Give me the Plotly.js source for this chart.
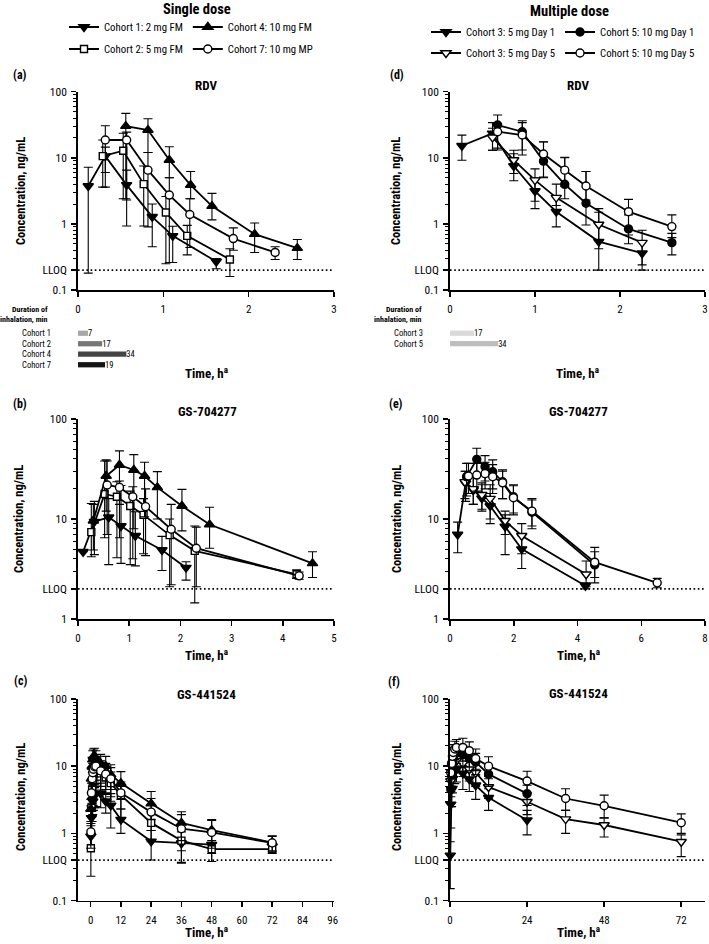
<!DOCTYPE html>
<html>
<head>
<meta charset="utf-8">
<script src="https://cdn.plot.ly/plotly-3.0.1.min.js"></script>
<style>
html, body { margin: 0; padding: 0; background: #fff; }
#chart { width: 709px; height: 944px; }
</style>
</head>
<body>
<div id="chart"></div>
<script>
// Plasma PK of RDV and metabolites, single vs multiple inhaled dose
// each row: [time h, mean ng/mL, lower bar end, upper bar end]

// (a) RDV, single dose
const a_c1 = [[0.12,3.74,0.18,7.2],[0.32,10.6,6.0,14.5],[0.57,3.9,0.93,6.5],[0.87,1.28,0.45,2.0],[1.11,0.66,0.26,0.92],[1.62,0.27,0.21,0.3]];
const a_c2 = [[0.29,10.6,3.6,18.6],[0.53,12.8,2.4,23.5],[0.77,4.0,0.93,7.5],[1.03,1.49,0.25,2.6],[1.28,0.66,0.34,0.95],[1.78,0.29,0.16,0.42]];
const a_c4 = [[0.56,30.2,2.4,47],[0.82,26.3,12,39],[1.07,9.25,5.0,14.7],[1.32,3.87,2.4,6.2],[1.57,1.86,1.15,2.9],[2.07,0.70,0.37,1.03],[2.57,0.43,0.29,0.58]];
const a_c7 = [[0.32,18.6,3.6,30.6],[0.57,18.6,2.3,24.5],[0.82,6.5,0.9,12],[1.07,2.73,0.26,5.0],[1.31,1.39,0.44,2.4],[1.82,0.60,0.40,0.87],[2.31,0.37,0.29,0.45]];

// (b) GS-704277, single dose
const b_c1 = [[0.10,4.7,4.7,4.7],[0.32,9.4,4.4,15],[0.60,10.4,3.5,16],[0.84,8.5,3.6,21.6],[1.12,6.8,3.4,11.8],[1.64,4.9,3.05,6.7],[2.11,3.26,2.45,3.74]];
const b_c2 = [[0.26,7.4,4.2,14.3],[0.52,17.8,6.5,38],[0.76,16.7,4.1,23.6],[1.02,13.5,3.5,19],[1.28,11.0,4.5,16],[1.79,6.9,2.1,10],[2.28,4.8,1.45,8.5],[4.27,2.8,2.55,3.1]];
const b_c4 = [[0.30,9.6,4.9,14],[0.55,26.9,12,39],[0.81,34.7,14,48],[1.09,30.9,8,44],[1.30,26.9,10.5,37],[1.55,20.7,10,29.8],[2.03,13.5,7.6,19.8],[2.57,8.8,5.1,13.1],[4.58,3.6,2.6,4.7]];
const b_c7 = [[0.57,21.9,7,38],[0.81,20.7,6.5,24],[1.07,16.7,4,21],[1.32,13.3,4.3,20],[1.82,7.9,2.2,14],[2.31,5.1,2.1,8.3],[4.32,2.7,2.5,2.95]];

// (c) GS-441524, single dose
const c_c1 = [[0.1,0.9,0.6,1.3],[0.33,1.7,1.0,2.4],[0.6,2.4,1.5,3.4],[0.85,3.0,1.9,4.2],[1.1,3.5,2.2,4.8],[1.6,3.8,2.4,5.3],[2.1,3.9,2.5,5.5],[4,3.9,2.4,5.6],[6,3.0,2.0,4.0],[8,2.6,1.2,3.9],[12,1.6,1.0,2.3],[24,0.76,0.4,1.1],[36,0.71,0.37,1.05],[48,0.68,0.38,0.98]];
const c_c2 = [[0.1,0.6,0.23,1.0],[0.33,2.4,1.5,3.3],[0.6,4.5,2.8,6.2],[0.85,6.0,3.6,8.3],[1.1,7.0,4.2,9.8],[1.6,7.8,4.8,10.8],[2.1,8.2,5.0,11.4],[4,7.8,4.4,11.0],[6,6.8,3.8,9.8],[8,5.6,3.0,8.2],[12,3.7,1.7,5.0],[24,1.43,0.75,2.1],[36,0.78,0.36,1.2],[48,0.58,0.38,0.78],[72,0.58,0.5,0.67]];
const c_c4 = [[0.1,2.3,1.4,3.2],[0.33,6.5,4,9],[0.6,10,6.5,13.5],[0.85,12.5,8,17],[1.1,13.8,9.5,18],[1.6,14.0,10,18.5],[2.1,13.2,9.5,17],[4,11.0,7.5,15],[6,10.0,6,14],[8,7.5,4.5,10.5],[12,5.6,3.2,8.3],[24,2.77,1.6,4.2],[36,1.43,0.78,2.1],[48,1.12,0.6,1.6],[72,0.73,0.55,0.92]];
const c_c7 = [[0.1,1.05,0.6,1.5],[0.33,4.0,2.4,5.6],[0.6,6.5,4,9],[0.85,8.0,5,11],[1.1,9.0,5.5,12.5],[1.6,9.8,6,13.5],[2.1,10.0,6.2,14],[4,8.5,5,12],[6,7.6,4.5,11],[8,6.5,3.5,9.5],[12,4.0,2.3,5.8],[24,2.07,1.1,3.3],[36,1.17,0.55,1.9],[48,1.03,0.5,1.55],[72,0.72,0.53,0.9]];

// (d) RDV, multiple dose
const d_c3d1 = [[0.14,15.2,9.2,22],[0.50,23.4,13,34],[0.75,7.5,4.5,11.5],[1.0,3.14,1.7,5.0],[1.25,1.53,0.9,2.6],[1.75,0.54,0.2,1.5],[2.26,0.36,0.2,0.55]];
const d_c3d5 = [[0.50,20.4,13,28],[0.75,9.25,5.8,13],[1.0,4.6,2.2,6.8],[1.25,2.5,1.9,4.0],[1.75,0.98,0.42,1.7],[2.26,0.52,0.24,0.8]];
const d_c5d1 = [[0.56,31.3,13.1,44.4],[0.85,24.8,13.1,36.4],[1.1,8.9,5.0,17.5],[1.35,3.97,2.4,10],[1.6,2.05,0.96,6.2],[2.1,0.84,0.5,1.37],[2.61,0.52,0.34,0.72]];
const d_c5d5 = [[0.56,24.8,14,33],[0.85,22.1,11,34],[1.1,11.4,5.1,17.3],[1.35,6.5,3.7,10.2],[1.6,3.74,2.3,6.2],[2.1,1.53,0.68,2.35],[2.61,0.91,0.62,1.37]];

// (e) GS-704277, multiple dose
const e_c3d1 = [[0.24,7.0,4.6,9.3],[0.49,22.8,15,30],[0.73,19.5,14,26],[1.0,16.1,12.5,22],[1.26,13.5,9,18],[1.73,8.4,4.4,11],[2.25,5.0,3.2,6.8],[4.25,2.15,2.0,2.3]];
const e_c3d5 = [[0.47,23.5,16,30],[0.73,20,14,27],[1.0,17.5,12,23],[1.26,16,10,22],[1.73,9.6,7,12],[2.25,6.8,4.5,9],[4.27,2.8,2.1,3.8]];
const e_c5d1 = [[0.52,26.5,17,36],[0.84,39.5,28,51],[1.1,33.4,24,43],[1.34,29.7,20,39],[1.65,23.6,16,31],[1.99,16.7,11.5,22],[2.57,11.7,8,15.5],[4.54,3.47,2.3,4.7]];
const e_c5d5 = [[0.58,26.9,18,36],[0.84,27.5,19,36],[1.1,28.4,20,37],[1.34,26.5,18,35],[1.65,23,16,30],[1.99,16.3,11,21.5],[2.57,12.0,8.5,16],[4.54,3.7,2.6,5.2],[6.5,2.3,2.05,2.55]];

// (f) GS-441524, multiple dose
const f_c3d1 = [[0.08,0.47,0.15,0.75],[0.25,2.7,1.2,4.2],[0.5,4.5,2.5,6.5],[0.75,6.5,4,9],[1,8,5,11],[1.5,8.8,5.5,12],[2,9,5.8,12.5],[4,7.8,4.5,11],[6,6.4,4.2,8.6],[8,5.2,3.2,7.2],[12,3.4,2.2,4.6],[24,1.57,0.95,2.2]];
const f_c3d5 = [[0.25,6,3.5,8.5],[0.5,8,5,11],[0.75,10,6.5,13.5],[1,11,7,15],[1.5,12,8,16],[2,12,8,16],[4,11,7,15],[6,9,6,12],[8,8,5,11],[12,4.9,3.3,6.5],[24,2.95,1.9,4.0],[36,1.63,1.0,2.2],[48,1.33,0.88,1.7],[72,0.75,0.45,0.95]];
const f_c5d1 = [[0.25,4.5,2.5,6.5],[0.5,7.5,4.5,10.5],[0.75,10.5,6.5,14.5],[1,13,8.5,17.5],[1.5,15,10,20],[2,16,11,21],[4,15,10,20],[6,13,8.5,17.5],[8,11.5,7.5,15.5],[12,7.6,5,10.2],[24,3.9,2.6,5.2]];
const f_c5d5 = [[0.25,8,5,11],[0.5,11,7,15],[0.75,14,9.5,19],[1,16,11,21],[1.5,18,12.5,23.5],[2,19,13,25],[4,19,13,26],[6,17,12,23],[8,13,9,18],[12,10,7,13.8],[24,6.0,4.0,8.4],[36,3.3,2.2,4.6],[48,2.57,1.7,3.7],[72,1.44,1.0,1.95]];

// LLOQ per analyte (RDV, GS-704277, GS-441524), ng/mL
const lloq = [0.2, 2, 0.4];

// inhalation duration, min
const durSingleLabels = ['Cohort 1', 'Cohort 2', 'Cohort 4', 'Cohort 7'];
const durSingleMin = [7, 17, 34, 19];
const durMultiLabels = ['Cohort 3', 'Cohort 5'];
const durMultiMin = [17, 34];

const singleNames = ['Cohort 1: 2 mg FM', 'Cohort 2: 5 mg FM', 'Cohort 4: 10 mg FM', 'Cohort 7: 10 mg MP'];
const multiNames = ['Cohort 3: 5 mg Day 1', 'Cohort 3: 5 mg Day 5', 'Cohort 5: 10 mg Day 1', 'Cohort 5: 10 mg Day 5'];

const FONT = '"Roboto Condensed", Roboto, sans-serif';
const W = 709, H = 944;

const STY = {
    downFill: { symbol: 'triangle-down', size: 9, color: '#000' },
    downOpen: { symbol: 'triangle-down', size: 9, color: '#fff' },
    upFill:   { symbol: 'triangle-up', size: 9, color: '#000' },
    square:   { symbol: 'square', size: 7, color: '#fff' },
    circFill: { symbol: 'circle', size: 8, color: '#000' },
    circOpen: { symbol: 'circle', size: 8, color: '#fff' }
};

function series(rows, sty, n, name, legend, showLegend) {
    const id = n === 1 ? '' : n;
    return {
        type: 'scatter', mode: 'lines+markers', name: name,
        x: rows.map(r => r[0]), y: rows.map(r => r[1]),
        xaxis: 'x' + id, yaxis: 'y' + id,
        line: { color: '#000', width: 1.8 },
        marker: { symbol: sty.symbol, size: sty.size, color: sty.color, line: { color: '#000', width: 1.4 } },
        error_y: {
            type: 'data', symmetric: false,
            array: rows.map(r => r[3] - r[1]),
            arrayminus: rows.map(r => r[1] - r[2]),
            color: '#000', thickness: 1.1, width: 4.5
        },
        legend: legend, showlegend: showLegend,
        hoverinfo: 'skip', cliponaxis: false
    };
}

const xr = { 1: [0, 3], 2: [0, 5], 3: [-5, 96.5], 4: [0, 3], 5: [0, 8], 6: [0, 79.4] };

function lloqLine(n, v) {
    const id = n === 1 ? '' : n;
    return {
        type: 'scatter', mode: 'lines', x: xr[n], y: [v, v],
        xaxis: 'x' + id, yaxis: 'y' + id,
        line: { color: '#000', width: 1.8, dash: '1.6px,2.6px' },
        showlegend: false, hoverinfo: 'skip'
    };
}

const traces = [];
// single dose panels 1..3, multiple dose panels 4..6
[[a_c1, a_c2, a_c4, a_c7], [b_c1, b_c2, b_c4, b_c7], [c_c1, c_c2, c_c4, c_c7]].forEach((set, i) => {
    const n = i + 1;
    traces.push(lloqLine(n, lloq[i]));
    const sty = [STY.downFill, STY.square, STY.upFill, STY.circOpen];
    const leg = ['legend', 'legend2', 'legend', 'legend2'];
    set.forEach((rows, k) => traces.push(series(rows, sty[k], n, singleNames[k], leg[k], n === 1)));
});
[[d_c3d1, d_c3d5, d_c5d1, d_c5d5], [e_c3d1, e_c3d5, e_c5d1, e_c5d5], [f_c3d1, f_c3d5, f_c5d1, f_c5d5]].forEach((set, i) => {
    const n = i + 4;
    traces.push(lloqLine(n, lloq[i]));
    const sty = [STY.downFill, STY.downOpen, STY.circFill, STY.circOpen];
    const leg = ['legend3', 'legend4', 'legend3', 'legend4'];
    set.forEach((rows, k) => traces.push(series(rows, sty[k], n, multiNames[k], leg[k], n === 4)));
});

// inhalation duration bars, drawn on a minute scale matching the time axis (3 h = 180 min)
function durBars(x, y, colors, ax) {
    return {
        type: 'bar', orientation: 'h', x: x, y: y,
        xaxis: 'x' + ax, yaxis: 'y' + ax, width: 0.5,
        marker: { color: colors, line: { width: 0 } },
        text: x.map(String), textposition: 'outside', constraintext: 'none', cliponaxis: false,
        textfont: { family: FONT, size: 8.5, color: '#000' }, showlegend: false, hoverinfo: 'skip'
    };
}
traces.push(durBars(durSingleMin, durSingleLabels, ['#a8a8a8', '#777', '#444', '#151515'], 7));
traces.push(durBars(durMultiMin, durMultiLabels, ['#dadada', '#bdbdbd'], 8));

const colL = [78 / W, 334 / W];
const colR = [450 / W, 705 / W];
const rows = [[1 - 290 / H, 1 - 91.7 / H], [1 - 619 / H, 1 - 419 / H], [1 - 900.5 / H, 1 - 699 / H]];

const axisBase = {
    showline: true, linecolor: '#000', linewidth: 1.8,
    ticks: 'outside', ticklen: 5, tickwidth: 1.5, tickcolor: '#000',
    showgrid: false, zeroline: false, fixedrange: true,
    tickfont: { family: FONT, size: 11.5, color: '#000' }
};

function xAxis(n, dom, dtick) {
    return Object.assign({}, axisBase, {
        domain: dom, range: xr[n], tick0: 0, dtick: dtick,
        anchor: n === 1 ? 'y' : 'y' + n, ticklabelstandoff: 3,
        tickfont: { family: FONT, size: 11, color: '#000' }
    });
}
function yAxis(n, dom, range, lv) {
    const vals = [], text = [], minor = [];
    for (let d = range[0]; d <= range[1]; d++) { vals.push(Math.pow(10, d)); text.push(String(Math.pow(10, d))); }
    vals.push(lv); text.push('LLOQ');
    for (let d = range[0]; d < range[1]; d++) for (let k = 2; k <= 9; k++) minor.push(k * Math.pow(10, d));
    return Object.assign({}, axisBase, {
        domain: dom, type: 'log', range: range, anchor: n === 1 ? 'x' : 'x' + n,
        tickmode: 'array', tickvals: vals, ticktext: text, ticklabelstandoff: 2,
        minor: { tickvals: minor, ticks: 'outside', ticklen: 3, tickwidth: 1, tickcolor: '#000' }
    });
}

const ann = [];
function txt(x, y, text, size, extra) {
    ann.push(Object.assign({
        xref: 'paper', yref: 'paper', x: x / W, y: 1 - y / H, text: text, showarrow: false,
        xanchor: 'center', yanchor: 'middle',
        font: { family: FONT, size: size, color: '#000' }
    }, extra || {}));
}
txt(197, 9, '<b>Single dose</b>', 14.5);
txt(569, 11, '<b>Multiple dose</b>', 14.5);
[['(a)', 20, 75], ['(d)', 397, 75], ['(b)', 20, 404], ['(e)', 396, 404], ['(c)', 20, 681], ['(f)', 394, 682]]
    .forEach(p => txt(p[1], p[2], '<b>' + p[0] + '</b>', 12));
[['RDV', 206, 85], ['RDV', 578, 85], ['GS-704277', 207, 412], ['GS-704277', 578, 412], ['GS-441524', 206, 694], ['GS-441524', 578, 693]]
    .forEach(p => txt(p[1], p[2], '<b>' + p[0] + '</b>', 13));
[[21, 191], [396, 191], [18, 519], [396, 519], [20, 797], [396, 797]]
    .forEach(p => txt(p[0], p[1], '<b>Concentration, ng/mL</b>', 12.5, { textangle: -90 }));
[[206, 373], [577, 373], [206, 655], [578, 655], [206, 932], [578, 932]]
    .forEach(p => txt(p[0], p[1], '<b>Time, h<sup>a</sup></b>', 13));
txt(50, 314.5, '<b>Duration of<br>inhalation, min</b>', 8, { xanchor: 'right', align: 'right' });
txt(424, 314.5, '<b>Duration of<br>inhalation, min</b>', 8, { xanchor: 'right', align: 'right' });

function legendAt(x, y) {
    return {
        x: x / W, y: 1 - y / H, xanchor: 'left', yanchor: 'middle',
        orientation: 'h', itemwidth: 30,
        bgcolor: 'rgba(0,0,0,0)', borderwidth: 0, tracegroupgap: 0,
        font: { family: FONT, size: 10.8, color: '#000' }, itemclick: false, itemdoubleclick: false
    };
}

const durAxisY = {
    type: 'category', tickmode: 'linear', dtick: 1, showline: false, ticks: '',
    showgrid: false, zeroline: false, fixedrange: true,
    tickfont: { family: FONT, size: 8.5, color: '#000' }, ticklabelstandoff: 26
};

const layout = {
    width: W, height: H, margin: { l: 0, r: 0, t: 0, b: 0 },
    paper_bgcolor: '#fff', plot_bgcolor: 'rgba(0,0,0,0)',
    font: { family: FONT, color: '#000' },
    showlegend: true,
    legend: legendAt(64, 27),
    legend2: legendAt(64, 49),
    legend3: legendAt(426, 32),
    legend4: legendAt(426, 53),
    xaxis: xAxis(1, colL, 1), yaxis: yAxis(1, rows[0], [-1, 2], lloq[0]),
    xaxis2: xAxis(2, colL, 1), yaxis2: yAxis(2, rows[1], [0, 2], lloq[1]),
    xaxis3: xAxis(3, colL, 12), yaxis3: yAxis(3, rows[2], [-1, 2], lloq[2]),
    xaxis4: xAxis(4, colR, 1), yaxis4: yAxis(4, rows[0], [-1, 2], lloq[0]),
    xaxis5: xAxis(5, colR, 2), yaxis5: yAxis(5, rows[1], [0, 2], lloq[1]),
    xaxis6: xAxis(6, colR, 24), yaxis6: yAxis(6, rows[2], [-1, 2], lloq[2]),
    xaxis7: { domain: colL, range: [0, 180], visible: false, anchor: 'y7', fixedrange: true },
    yaxis7: Object.assign({}, durAxisY, { domain: [1 - 370 / H, 1 - 328 / H], anchor: 'x7', range: [3.5, -0.5] }),
    xaxis8: { domain: colR, range: [0, 180], visible: false, anchor: 'y8', fixedrange: true },
    yaxis8: Object.assign({}, durAxisY, { domain: [1 - 349 / H, 1 - 328 / H], anchor: 'x8', range: [1.5, -0.5] }),
    annotations: ann
};

Plotly.newPlot('chart', traces, layout, { displayModeBar: false, staticPlot: true });
</script>
</body>
</html>
